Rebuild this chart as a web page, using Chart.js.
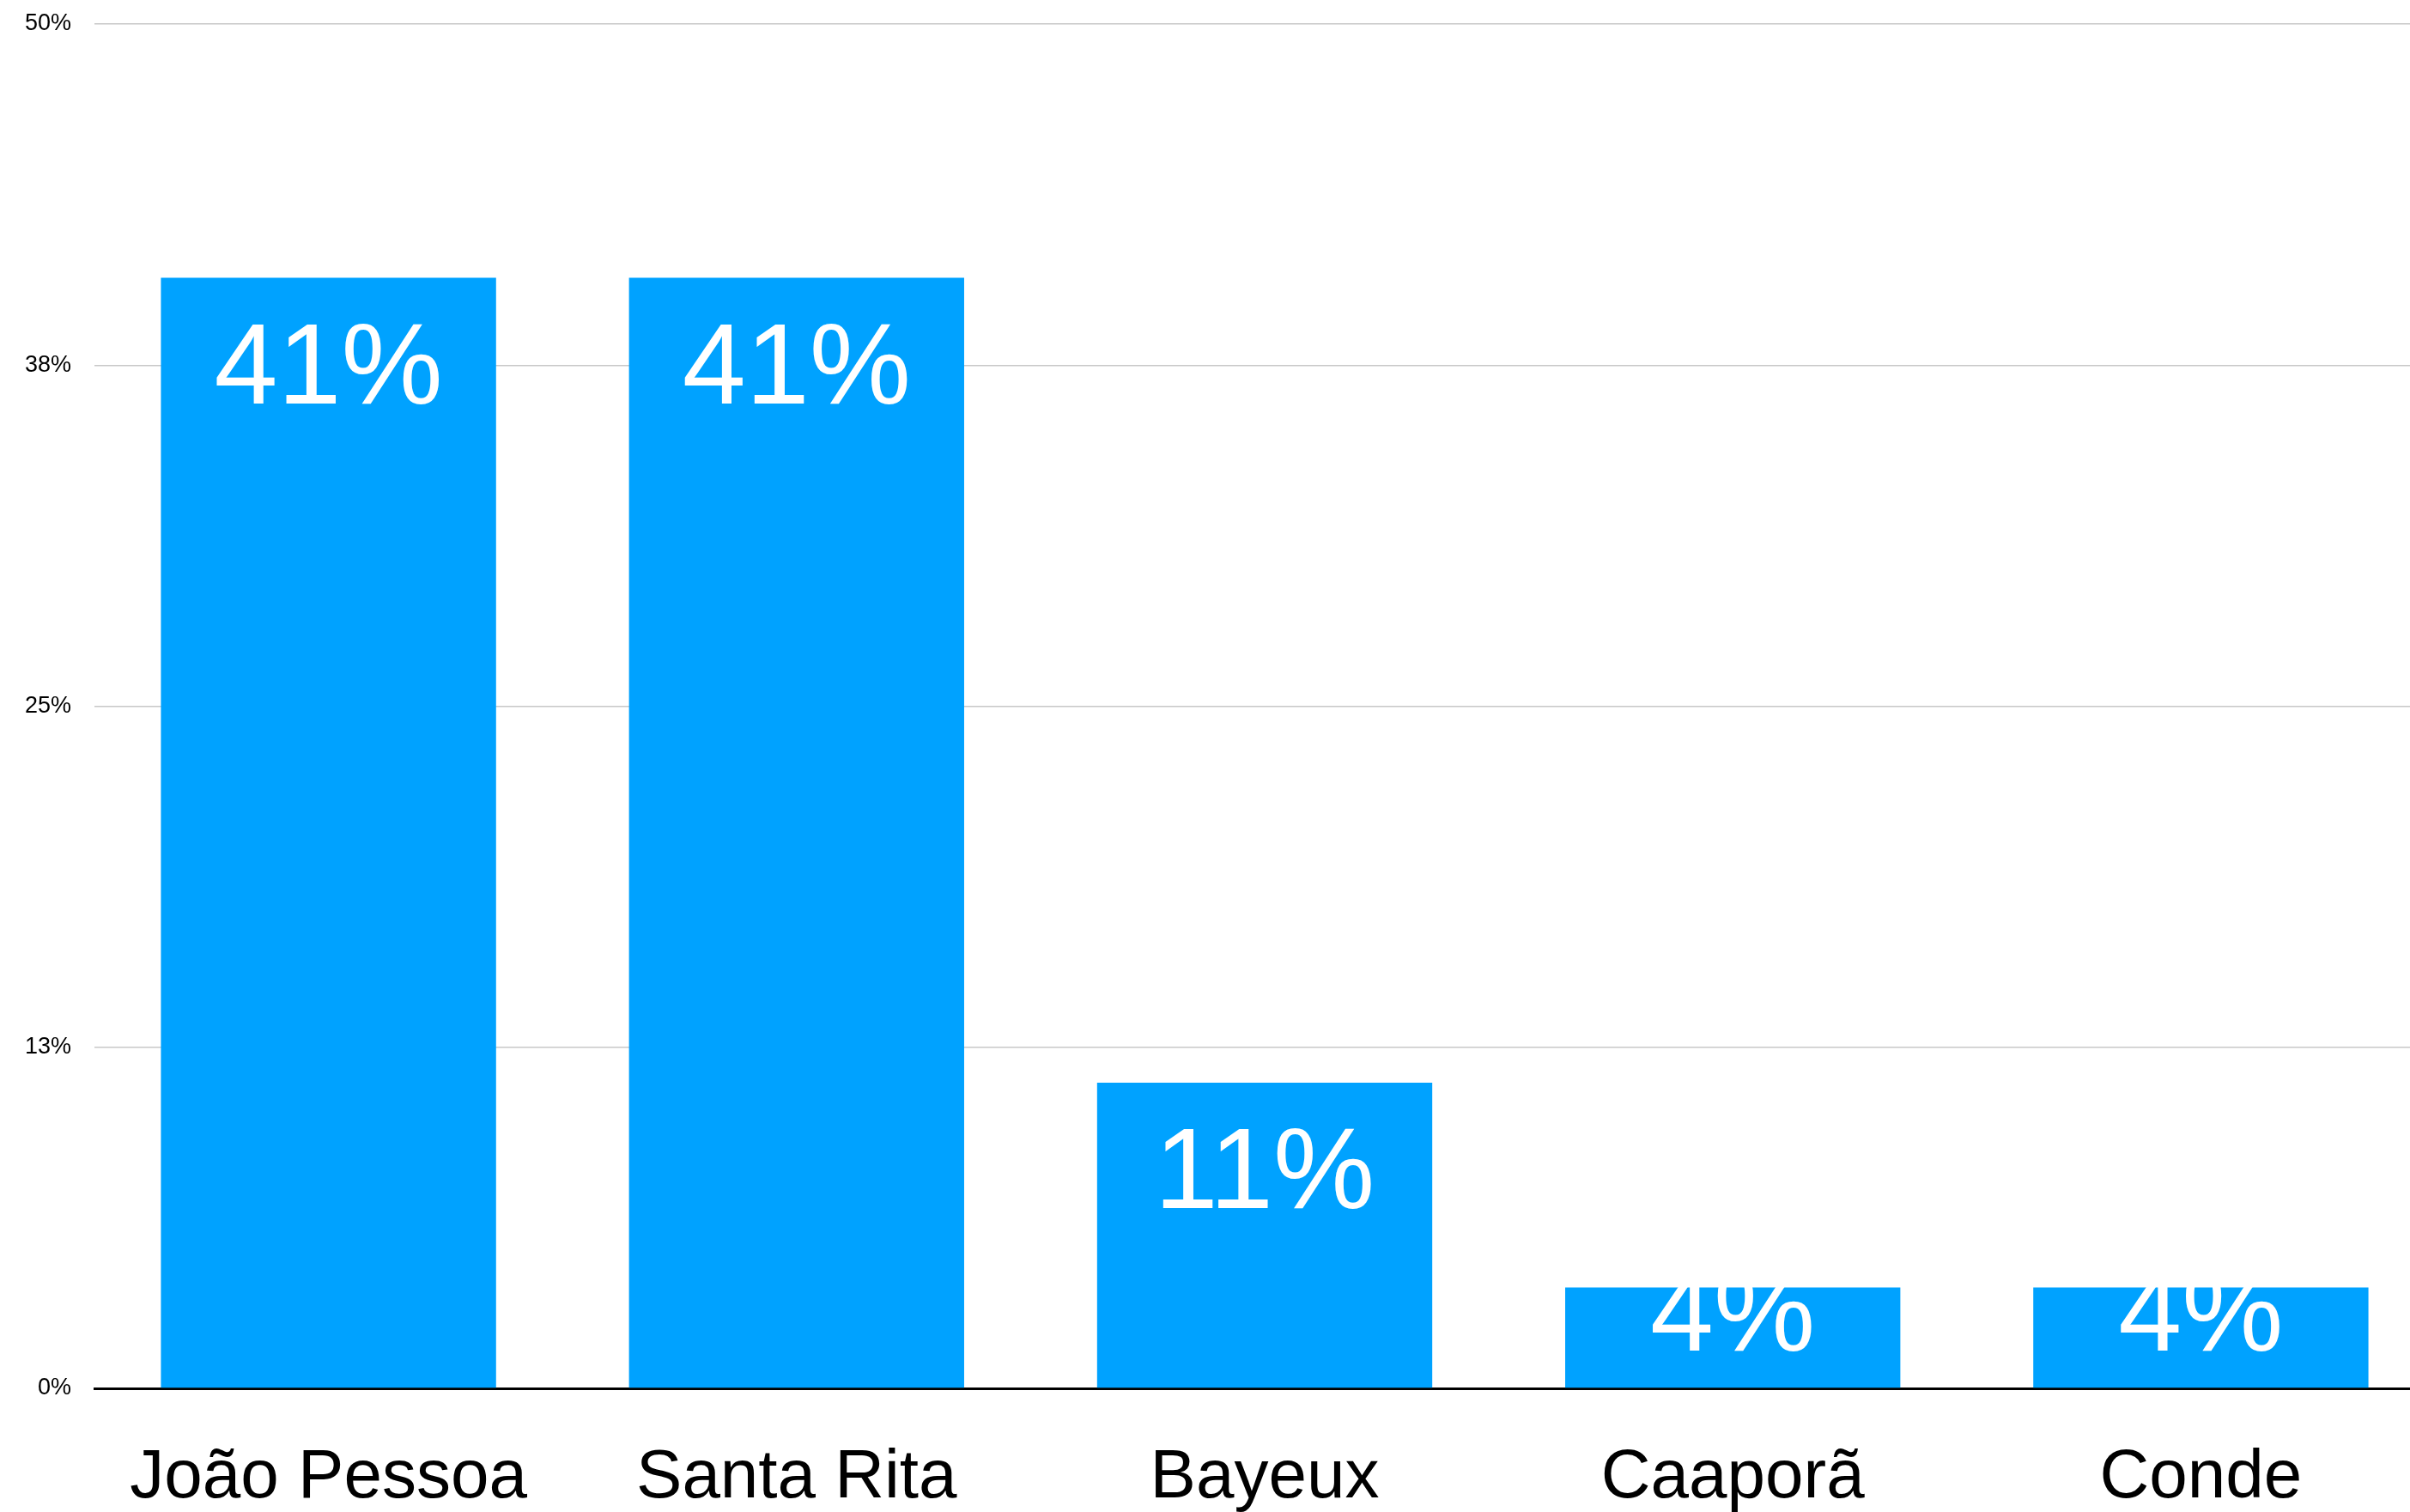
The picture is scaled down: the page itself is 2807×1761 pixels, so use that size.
<!DOCTYPE html>
<html>
<head>
<meta charset="utf-8">
<script src="https://cdn.jsdelivr.net/npm/chart.js@4/dist/chart.umd.min.js"></script>
<style>
  html, body { margin: 0; padding: 0; background: #fff; overflow: hidden; }
  #wrap { position: relative; width: 2836px; height: 1761px; }
</style>
</head>
<body>
<div id="wrap"><canvas id="myChart"></canvas></div>
<script>
"use strict";

// cities and their share (%)
const cities = ["João Pessoa", "Santa Rita", "Bayeux", "Caaporã", "Conde"];
const share = [40.7, 40.7, 11.2, 3.7, 3.7];
const yTicks = [0, 12.5, 25, 37.5, 50];

const fontName = "'Liberation Sans', Arial, Helvetica, sans-serif";

// white percentage label near the top of each bar
const barLabels = {
    id: "barLabels",
    afterDatasetsDraw(chart){
        const ctx = chart.ctx;
        const meta = chart.getDatasetMeta(0);
        const base = chart.scales.y.getPixelForValue(0);
        ctx.save();
        ctx.fillStyle = "#fff";
        ctx.font = "133px " + fontName;
        ctx.textAlign = "center";
        ctx.textBaseline = "alphabetic";
        meta.data.forEach((bar, i) => {
            const y = Math.min(bar.y + 146, base - 44);
            ctx.fillText(Math.round(share[i]) + "%", bar.x, y);
        });
        ctx.restore();
    }
};

const ctx = document.getElementById("myChart").getContext("2d");
const myChart = new Chart(ctx, {
    type: "bar",
    data: {
        labels: cities,
        datasets: [{
            data: share,
            backgroundColor: "#00a2ff",
            borderWidth: 0,
            categoryPercentage: 1,
            barPercentage: 0.716
        }]
    },
    options: {
        responsive: true,
        maintainAspectRatio: false,
        animation: false,
        layout: { padding: { top: 28, right: 0, bottom: 0, left: 0 } },
        plugins: {
            legend: { display: false },
            tooltip: { enabled: false }
        },
        scales: {
            x: {
                afterFit(scale){
                    scale.height = 144;
                },
                grid: { display: false, drawTicks: false },
                border: { color: "#000", width: 3 },
                ticks: {
                    color: "#000",
                    font: { family: fontName, size: 80 },
                    padding: 57,
                    maxRotation: 0,
                    autoSkip: false
                }
            },
            y: {
                min: 0,
                max: 50,
                afterBuildTicks(scale){
                    scale.ticks = yTicks.map(v => ({ value: v }));
                },
                afterFit(scale){
                    scale.width = 110;
                    scale.paddingTop = 0;
                    scale.paddingBottom = 0;
                },
                grid: { color: "#c8c8c8", lineWidth: 1.5, drawTicks: false },
                border: { display: false },
                ticks: {
                    color: "#000",
                    font: { family: fontName, size: 27 },
                    padding: 27,
                    callback: v => Math.round(v) + "%"
                }
            }
        }
    },
    plugins: [barLabels]
});
</script>
</body>
</html>
